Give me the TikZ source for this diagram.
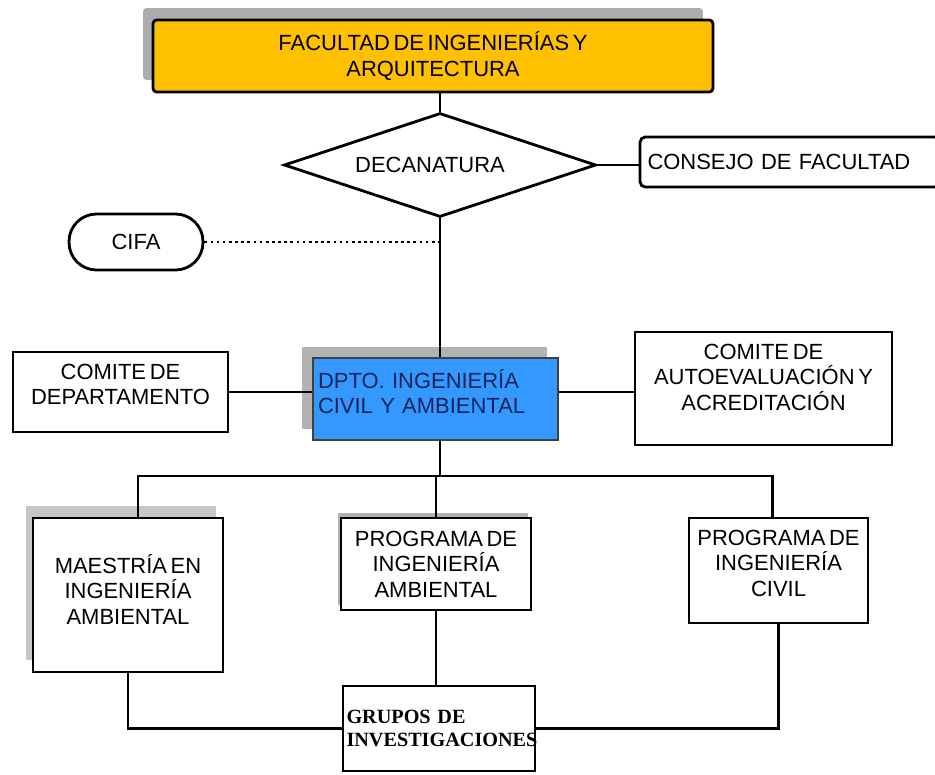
\documentclass[tikz,border=0pt]{standalone}
\usepackage{fontspec}
\setmainfont{Liberation Sans}[WordSpace=0.6]
\newfontfamily\grpfont{Liberation Serif}
\usepackage{tikz}
\usetikzlibrary{shapes.geometric, shadows, positioning}
\usepackage{xcolor}
\definecolor{FacYellow}{RGB}{255,192,0}
\definecolor{DeptBlue}{RGB}{51,153,255}
\definecolor{DeptInk}{RGB}{20,35,90}

\begin{document}
\begin{tikzpicture}[x=0.02cm, y=-0.02cm,
            font=\fontsize{12.5}{14.5}\selectfont,
            unit/.style={draw=black, line width=1.6pt, fill=white, align=center, text=black},
            shadowbox/.style n args={3}{general shadow={fill=gray!#1, shadow xshift=#2, shadow yshift=#3}},
            link/.style={line width=1.5pt}
        ]
        \useasboundingbox (0,0) rectangle (935,774);

        % Top levels
        \node[unit, fill=FacYellow, rounded corners=2pt, minimum width=11.2cm, minimum height=1.44cm, shadowbox={65}{-0.2cm}{0.24cm}] (fac) at (433,56) {FACULTAD DE INGENIERÍAS Y\\ARQUITECTURA};
        \node[unit, diamond, aspect=3, inner sep=0pt, minimum width=6.24cm, minimum height=2.08cm] (dec) at (440,165) {DECANATURA\hspace*{0.4cm}};
        \node[unit, rounded corners=3pt, minimum width=6cm, minimum height=1cm, text width=5.7cm, inner xsep=0.1cm, align=left] (cons) at (790,162) {CONSEJO DE FACULTAD};
        \node[unit, rounded corners=0.55cm, minimum width=2.68cm, minimum height=1.12cm] (cifa) at (136,242) {CIFA};

        % Department row
        \node[unit, fill=DeptBlue, draw=black!75, line width=0.8pt, text=DeptInk, minimum width=4.9cm, minimum height=1.64cm, text width=4.7cm, inner xsep=2pt, align=left, shadowbox={60}{-0.22cm}{0.22cm}] (dpto) at (435.5,399) {DPTO. INGENIERÍA\\CIVIL Y AMBIENTAL\\[-6pt]\mbox{}};
        \node[unit, minimum width=4.3cm, minimum height=1.6cm] (cdep) at (120.5,392) {COMITE DE\\DEPARTAMENTO\\[-6pt]\mbox{}};
        \node[unit, minimum width=5.14cm, minimum height=2.26cm] (caut) at (763.5,388.5) {COMITE DE\\AUTOEVALUACIÓN Y\\ACREDITACIÓN\\[-1.5pt]\mbox{}};

        % Programs
        \node[unit, minimum width=3.8cm, minimum height=3.08cm, shadowbox={45}{-0.14cm}{0.24cm}] (mae) at (128,595) {MAESTRÍA EN\\INGENIERÍA\\AMBIENTAL\\[-7.7pt]\mbox{}};
        \node[unit, minimum width=3.8cm, minimum height=1.84cm, shadowbox={60}{-0.06cm}{0.1cm}] (pamb) at (436,564) {PROGRAMA DE\\INGENIERÍA\\AMBIENTAL};
        \node[unit, minimum width=3.58cm, minimum height=2.1cm] (pciv) at (778.5,570.5) {PROGRAMA DE\\INGENIERÍA\\CIVIL\\[-6pt]\mbox{}};
        \node[unit, minimum width=3.84cm, minimum height=1.7cm, text width=3.7cm, inner xsep=1pt, align=left, font=\grpfont\bfseries\fontsize{11.5}{13}\selectfont] (grp) at (439,728.5) {GRUPOS DE\\INVESTIGACIONES};

        % Lines
        \coordinate (bus) at (440,476);
        \draw[link] (dec.north) -- (dec.north |- fac.south);
        \draw[link] (dec.east) -- (dec.east -| cons.west);
        \draw[link] (dec.south) -- (dec.south |- dpto.north);
        \draw[link, dotted] (cifa.east) -- (cifa.east -| dec.south);
        \draw[link] (cdep.east) -- (cdep.east -| dpto.west);
        \draw[link] (dpto.east |- cdep.east) -- (caut.west |- cdep.east);
        \draw[link] (dec.south |- dpto.south) -- (bus);
        \draw[link] ([xshift=0.2cm]mae.north) |- ([xshift=-0.12cm]pciv.north |- bus) -- ([xshift=-0.12cm]pciv.north);
        \draw[link] (pamb.north) -- (pamb.north |- bus);
        \draw[link] (mae.south) |- (grp.west);
        \draw[link] (pamb.south) -- (pamb.south |- grp.north);
        \draw[link] (pciv.south) |- (grp.east);

\end{tikzpicture}
\end{document}
